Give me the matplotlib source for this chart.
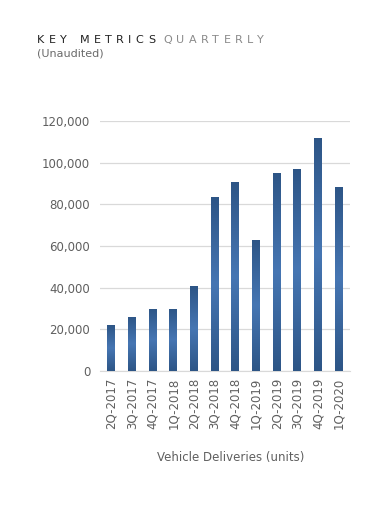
import numpy as np
import matplotlib.pyplot as plt
from matplotlib.colors import LinearSegmentedColormap

# quarterly vehicle deliveries
quarters = ['2Q-2017', '3Q-2017', '4Q-2017', '1Q-2018', '2Q-2018', '3Q-2018',
            '4Q-2018', '1Q-2019', '2Q-2019', '3Q-2019', '4Q-2019', '1Q-2020']
deliveries = [22026, 26137, 29967, 29980, 40740, 83500,
              90700, 63000, 95200, 97000, 112000, 88400]
yticks = [0, 20000, 40000, 60000, 80000, 100000, 120000]

fig = plt.figure(figsize=(3.8, 5.21), dpi=100)
ax = fig.add_axes([100 / 380, 150 / 521, 250 / 380, 250 / 521])

x = np.arange(len(quarters))
bars = ax.bar(x, deliveries, width=0.38, color='none', zorder=3)

# vertical gradient: dark at ends, lighter in the middle
cmap = LinearSegmentedColormap.from_list('barfill', ['#2d5586', '#4676b3', '#2d5586'])
grad = np.linspace(0, 1, 256).reshape(-1, 1)
for b in bars:
    x0, y0 = b.get_x(), b.get_y()
    im = ax.imshow(grad, cmap=cmap, aspect='auto', zorder=3,
                   extent=(x0, x0 + b.get_width(), y0, y0 + b.get_height()))
    im.set_clip_path(b)

ax.set_xlim(-0.55, len(quarters) - 0.45)
ax.set_ylim(0, 120000)
ax.set_yticks(yticks)
ax.set_yticklabels([f'{v:,}' for v in yticks])
ax.set_xticks(x)
ax.set_xticklabels(quarters, rotation=90)
ax.tick_params(axis='both', length=0, labelsize=8.5, labelcolor='#5f5f5f')
ax.tick_params(axis='y', pad=7)
ax.tick_params(axis='x', pad=5)
ax.grid(axis='y', color='#d9d9d9', linewidth=0.9, zorder=0)
for s in ['top', 'right', 'left']:
    ax.spines[s].set_visible(False)
ax.spines['bottom'].set_color('#d9d9d9')
ax.spines['bottom'].set_zorder(1)

fig.text(231 / 380, 1 - 457 / 521, 'Vehicle Deliveries (units)', fontsize=8.5,
         color='#5f5f5f', ha='center', va='center')

# header with letter spacing
renderer = fig.canvas.get_renderer()


def spaced(x_px, y_px, word, color, track=4.3):
    for ch in word:
        t = fig.text(x_px / 380, 1 - y_px / 521, ch, fontsize=8, color=color,
                     va='center', ha='left')
        x_px += t.get_window_extent(renderer).width + track
    return x_px


spaced(37, 40, 'KEY', '#222222')
spaced(80, 40, 'METRICS', '#222222')
spaced(163, 40, 'QUARTERLY', '#8a8a8a')
fig.text(37 / 380, 1 - 53 / 521, '(Unaudited)', fontsize=8, color='#6a6a6a',
         va='center', ha='left')

plt.savefig('out.png', dpi=100)
